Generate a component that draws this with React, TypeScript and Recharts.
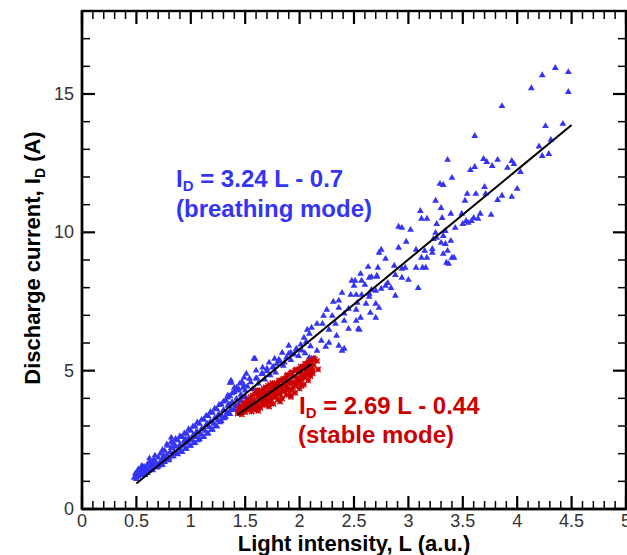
import React from 'react';
import { ScatterChart, Scatter, XAxis, YAxis } from 'recharts';

// ---------- data ----------
const X_MAJOR_LABELS = ['0', '0.5', '1', '1.5', '2', '2.5', '3', '3.5', '4', '4.5', '5'];
const Y_MAJOR_LABELS = ['0', '5', '10', '15'];
const X_TICKS = Array.from({ length: 51 }, (_, i) => i / 10);
const Y_TICKS = Array.from({ length: 19 }, (_, i) => i);

// breathing mode (blue triangles): [L, I_D]
const breathingLow: [number, number][] = [
  [0.48, 1.15], [0.49, 1.3], [0.5, 1.22], [0.51, 1.4], [0.52, 1.18], [0.53, 1.33], [0.54, 1.48], [0.55, 1.25],
  [0.56, 1.42], [0.57, 1.55], [0.58, 1.35], [0.59, 1.5], [0.6, 1.62], [0.61, 1.4], [0.62, 1.72], [0.63, 1.55],
  [0.64, 1.45], [0.65, 1.68], [0.66, 1.8], [0.67, 1.58], [0.68, 1.7], [0.69, 1.52], [0.7, 1.88], [0.71, 1.66],
  [0.72, 2.02], [0.73, 1.78], [0.74, 1.62], [0.75, 1.95], [0.76, 2.12], [0.77, 1.8], [0.78, 1.98], [0.79, 2.3],
  [0.8, 1.85], [0.81, 2.08], [0.82, 2.22], [0.83, 1.95], [0.84, 2.4], [0.85, 2.1], [0.86, 2.28], [0.87, 2.02],
  [0.88, 2.5], [0.89, 2.2], [0.9, 2.35], [0.91, 2.12], [0.92, 2.62], [0.93, 2.3], [0.94, 2.48], [0.95, 2.2],
  [0.96, 2.75], [0.97, 2.4], [0.98, 2.58], [0.99, 2.3], [1.0, 2.85], [1.01, 2.5], [1.02, 2.68], [1.03, 2.42],
  [1.04, 3.0], [1.05, 2.62], [1.06, 2.8], [1.07, 2.5], [1.08, 3.1], [1.09, 2.72], [1.1, 2.92], [1.11, 2.62],
  [1.12, 3.25], [1.13, 2.85], [1.14, 3.05], [1.15, 2.75], [1.16, 3.38], [1.17, 2.98], [1.18, 3.18], [1.19, 2.88],
  [1.2, 3.5], [1.21, 3.1], [1.22, 3.3], [1.23, 3.02], [1.24, 3.62], [1.25, 3.22], [1.26, 3.45], [1.27, 3.15],
  [1.28, 3.8], [1.29, 3.35], [1.3, 3.6], [1.31, 3.3], [1.32, 3.95], [1.33, 3.5], [1.34, 3.75], [1.35, 3.48],
  [1.36, 4.1], [1.37, 3.62], [1.38, 3.88], [1.39, 3.6], [1.4, 4.25], [1.41, 3.78], [1.42, 4.0], [1.43, 3.72],
  [1.44, 4.35], [1.45, 3.9], [1.46, 4.15], [1.47, 4.62], [1.48, 4.05], [1.5, 4.3], [1.36, 4.58], [0.82, 2.6],
];

const breathingLowEdge: [number, number][] = [
  [0.5, 1.1], [0.52, 1.45], [0.55, 1.58], [0.58, 1.25], [0.6, 1.32], [0.62, 1.85], [0.65, 1.42], [0.67, 1.95],
  [0.7, 1.55], [0.72, 1.6], [0.74, 2.15], [0.76, 1.72], [0.78, 2.35], [0.8, 1.78], [0.82, 2.45], [0.84, 1.92],
  [0.86, 2.55], [0.88, 2.0], [0.9, 2.65], [0.92, 2.08], [0.94, 2.75], [0.96, 2.2], [0.98, 2.9], [1.0, 2.3],
  [1.02, 3.0], [1.04, 2.4], [1.06, 3.15], [1.08, 2.55], [1.1, 3.25], [1.12, 2.62], [1.14, 3.38], [1.16, 2.75],
  [1.18, 3.52], [1.2, 2.88], [1.22, 3.65], [1.24, 3.0], [1.26, 3.78], [1.28, 3.2], [1.3, 3.9], [1.32, 3.35],
  [1.34, 4.05], [1.36, 3.45], [1.38, 4.2], [1.4, 3.6], [1.42, 4.4], [1.44, 3.75], [0.95, 2.55], [1.05, 2.8],
  [1.15, 3.1], [1.25, 3.4], [1.35, 3.8], [0.75, 1.85], [0.85, 2.3], [0.65, 1.55], [0.55, 1.35], [1.46, 3.95],
  [1.48, 4.4], [1.5, 4.1],
];

const breathingMid: [number, number][] = [
  [1.52, 4.45], [1.55, 4.6], [1.57, 4.35], [1.6, 4.75], [1.62, 4.55], [1.65, 4.9], [1.68, 4.7], [1.7, 5.0],
  [1.73, 4.85], [1.76, 5.15], [1.78, 4.95], [1.82, 5.35], [1.85, 5.2], [1.88, 5.5], [1.92, 5.4], [1.95, 5.6],
  [1.99, 5.55], [2.02, 5.75], [2.05, 5.65], [2.1, 5.9],
  [1.58, 5.45], [1.77, 5.45], [1.7, 5.09], [1.86, 5.31], [1.49, 4.77], [1.61, 4.73], [1.37, 4.59], [1.43, 4.3],
  [1.34, 4.12], [1.92, 5.67], [1.97, 5.81],
  [2.51, 8.27], [2.5, 8.09], [2.66, 8.41], [2.71, 8.45], [2.6, 8.12], [2.57, 7.76], [2.64, 7.69], [2.31, 7.51],
  [2.36, 7.55], [2.53, 7.47], [2.61, 7.44], [2.7, 7.44], [2.25, 7.22], [2.36, 7.29], [2.45, 7.26], [2.52, 7.22],
  [2.65, 7.11], [2.22, 7.0], [2.3, 7.0], [2.41, 7.08], [2.56, 6.93], [2.7, 6.93], [2.16, 6.71], [2.21, 6.71],
  [2.33, 6.71], [2.41, 6.82], [2.52, 6.82], [2.45, 6.53], [2.55, 6.5], [2.07, 6.5], [2.11, 6.57], [2.09, 6.35],
  [2.27, 6.5], [2.34, 6.28], [2.2, 6.1], [2.27, 6.03], [2.04, 6.21], [2.01, 5.96], [2.24, 5.88], [2.41, 5.81],
  [2.06, 6.06], [1.9, 5.92], [1.97, 5.78], [2.16, 5.74], [1.84, 5.67], [1.9, 5.63], [1.81, 5.42], [2.09, 5.49],
  [2.13, 5.45], [1.59, 5.45], [1.72, 5.31], [1.79, 5.27], [1.66, 5.13], [1.75, 5.13], [1.6, 5.02], [1.51, 4.91],
  [1.66, 4.91], [1.54, 4.73], [1.45, 4.55], [1.49, 4.48], [1.4, 4.4], [1.37, 4.66],
  [2.39, 5.74], [2.36, 5.92], [2.54, 6.53], [2.73, 7.29],
];

const breathingHigh: [number, number][] = [
  [3.11, 10.79], [3.12, 10.51], [3.17, 10.51], [3.3, 10.9], [3.31, 10.54], [3.26, 10.32], [3.39, 10.69],
  [3.49, 10.69], [3.53, 10.43], [3.58, 10.43], [3.64, 10.51], [3.66, 10.69], [3.76, 10.65], [3.5, 10.32],
  [3.43, 10.18], [3.34, 10.07], [3.25, 10.0], [2.91, 10.22], [2.94, 10.18], [3.02, 10.11], [2.98, 9.68],
  [3.07, 9.39], [2.91, 9.46], [2.75, 9.39], [2.73, 9.28], [2.79, 9.06], [3.26, 9.82], [3.3, 9.64], [3.39, 9.71],
  [3.4, 9.1], [3.35, 8.92], [3.22, 9.42], [3.22, 9.28], [3.17, 9.1], [3.12, 9.1], [3.07, 8.74], [3.16, 8.74],
  [2.97, 8.74], [2.94, 8.7], [2.87, 8.81], [2.72, 8.74], [2.63, 8.77], [2.56, 8.52], [2.64, 8.38], [2.71, 8.41],
  [2.88, 8.48], [2.94, 8.38], [3.0, 8.3], [3.23, 9.78], [3.32, 9.89], [3.34, 9.6], [3.36, 9.35], [3.32, 9.24],
  [3.42, 9.1], [3.37, 8.88], [3.15, 9.35], [3.13, 8.74], [2.48, 8.27], [2.57, 8.27], [2.81, 8.19], [2.79, 8.09],
  [2.84, 8.01], [2.75, 7.98], [2.7, 7.91], [2.66, 7.94], [3.09, 8.01], [2.88, 7.73], [2.39, 7.83], [2.47, 7.76],
  [2.52, 7.76], [2.64, 7.8], [3.52, 11.16], [3.55, 10.36], [3.6, 10.54], [3.71, 11.41],
  [4.35, 15.96], [4.47, 15.81], [4.23, 15.7], [4.13, 15.23], [4.47, 15.09], [3.86, 14.58], [4.42, 13.94],
  [4.26, 13.86], [3.61, 13.5], [4.31, 13.36], [4.2, 13.12], [4.23, 12.78], [4.29, 12.85], [3.36, 12.64],
  [3.69, 12.67], [3.72, 12.56], [3.82, 12.64], [3.77, 12.42], [3.95, 12.6], [3.97, 12.49], [3.91, 12.35],
  [3.61, 12.38], [3.57, 12.27], [4.03, 12.2], [3.4, 11.99], [3.29, 11.77], [3.32, 11.73], [3.7, 11.66],
  [4.0, 11.59], [3.54, 11.41], [3.62, 11.41], [3.82, 11.19], [3.86, 11.34], [3.95, 11.3], [3.25, 11.16],
];

// stable mode (red stars): [L, I_D]
const stablePoints: [number, number][] = [
  [1.43, 3.45], [1.44, 3.6], [1.45, 3.5], [1.46, 3.72], [1.47, 3.42], [1.48, 3.62], [1.49, 3.85], [1.5, 3.5],
  [1.51, 3.7], [1.52, 3.95], [1.53, 3.58], [1.54, 3.8], [1.55, 4.05], [1.56, 3.52], [1.57, 3.72], [1.58, 3.92],
  [1.59, 4.15], [1.6, 3.6], [1.61, 3.82], [1.62, 4.05], [1.63, 4.28], [1.64, 3.65], [1.65, 3.9], [1.66, 4.15],
  [1.67, 4.35], [1.68, 3.75], [1.69, 4.0], [1.7, 4.22], [1.71, 4.45], [1.72, 3.85], [1.73, 4.1], [1.74, 4.32],
  [1.75, 4.55], [1.76, 3.8], [1.77, 4.05], [1.78, 4.25], [1.79, 4.48], [1.8, 3.95], [1.81, 4.18], [1.82, 4.4],
  [1.83, 4.62], [1.84, 4.0], [1.85, 4.28], [1.86, 4.5], [1.87, 4.72], [1.88, 4.12], [1.89, 4.38], [1.9, 4.6],
  [1.91, 4.85], [1.92, 4.05], [1.93, 4.3], [1.94, 4.55], [1.95, 4.78], [1.96, 4.2], [1.97, 4.45], [1.98, 4.7],
  [1.99, 4.95], [2.0, 4.35], [2.01, 4.6], [2.02, 4.85], [2.03, 5.1], [2.04, 4.5], [2.05, 4.75], [2.06, 5.0],
  [2.07, 5.25], [2.08, 4.65], [2.09, 4.9], [2.1, 5.15], [2.11, 5.35], [2.12, 5.0], [2.13, 5.2], [2.14, 5.4],
  [1.46, 3.55], [1.5, 3.78], [1.55, 3.65], [1.58, 3.6], [1.62, 3.7], [1.66, 3.8], [1.7, 3.9], [1.74, 3.95],
  [1.78, 4.1], [1.82, 4.15], [1.86, 4.25], [1.9, 4.3], [1.94, 4.4], [1.98, 4.55], [2.02, 4.7], [2.06, 4.85],
  [1.6, 4.2], [1.64, 4.1], [1.68, 4.2], [1.72, 4.3], [1.76, 4.4], [1.8, 4.5], [1.84, 4.65], [1.88, 4.8],
  [1.92, 4.9], [1.96, 5.0], [2.0, 5.05], [2.04, 5.15], [2.08, 5.3], [2.1, 4.8], [2.16, 5.35], [2.17, 5.05],
  [1.44, 3.52], [1.47, 3.65], [1.49, 3.58], [1.52, 3.75], [1.53, 3.88], [1.56, 3.9], [1.57, 4.1], [1.59, 3.75],
  [1.61, 4.3], [1.63, 3.95], [1.65, 4.25], [1.67, 3.98], [1.69, 4.4], [1.71, 4.1], [1.73, 4.5], [1.75, 4.2],
  [1.77, 4.55], [1.79, 4.3], [1.81, 4.65], [1.83, 4.35], [1.85, 4.7], [1.87, 4.45], [1.89, 4.85], [1.91, 4.55],
  [1.93, 4.95], [1.95, 4.6], [1.97, 5.05], [1.99, 4.75], [2.01, 5.15], [2.03, 4.9], [2.05, 5.25], [2.07, 5.05],
  [2.09, 5.38], [2.11, 5.1], [2.13, 5.45], [1.62, 3.55], [1.72, 3.7], [1.82, 3.88], [1.92, 4.12], [2.02, 4.45],
  [2.12, 4.9],
];

// fit lines: endpoints [L, I_D]
const fitBreathing: [number, number][] = [[0.5, 0.92], [4.5, 13.88]];
const fitStable: [number, number][] = [[1.43, 3.41], [2.11, 5.24]];

// ---------- layout / styling ----------
const PLOT_LEFT = 82;
const PLOT_RIGHT = 626;
const PLOT_TOP = 11;
const PLOT_BOTTOM = 509;

const BLUE = '#3434f4';
const RED = '#cc0000';
const FONT = "Arial, 'Liberation Sans', Helvetica, sans-serif";

const toXY = (arr: [number, number][]) => arr.map(([x, y]) => ({ x, y }));
const blueData = toXY([...breathingLow, ...breathingLowEdge, ...breathingMid, ...breathingHigh]);
const redData = toXY(stablePoints);

const isMajorX = (v: number) => Math.abs(v * 2 - Math.round(v * 2)) < 1e-6;
const isMajorY = (v: number) => Math.abs(v / 5 - Math.round(v / 5)) < 1e-6;

const Tri = (p: any) => {
  const { cx, cy } = p;
  if (cx == null || cy == null) return <g />;
  return <polygon points={`${cx},${cy - 3.4} ${cx - 3.4},${cy + 2.5} ${cx + 3.4},${cy + 2.5}`} fill={BLUE} />;
};

const Star = (p: any) => {
  const { cx, cy } = p;
  if (cx == null || cy == null) return <g />;
  const r = 2.6;
  return (
    <g stroke={RED} strokeWidth={1.4}>
      <line x1={cx - r} y1={cy - r} x2={cx + r} y2={cy + r} />
      <line x1={cx - r} y1={cy + r} x2={cx + r} y2={cy - r} />
      <line x1={cx - r} y1={cy} x2={cx + r} y2={cy} />
      <line x1={cx} y1={cy - r} x2={cx} y2={cy + r} />
    </g>
  );
};

const NoDot = () => <g />;

const MAJ = 13;
const MIN = 8;

// bottom axis tick: inward tick at bottom, mirrored tick at top frame
const XTick = (p: any) => {
  const { x, payload } = p;
  const v = payload.value;
  const major = isMajorX(v);
  const len = major ? MAJ : MIN;
  const sw = major ? 2.2 : 1.5;
  return (
    <g>
      <line x1={x} x2={x} y1={PLOT_BOTTOM} y2={PLOT_BOTTOM - len} stroke="#000" strokeWidth={sw} />
      <line x1={x} x2={x} y1={PLOT_TOP} y2={PLOT_TOP + len} stroke="#000" strokeWidth={sw} />
      {major && (
        <text x={x} y={PLOT_BOTTOM + 18} textAnchor="middle" fontSize={18} fontFamily={FONT} fill="#333">
          {X_MAJOR_LABELS[Math.round(v * 2)]}
        </text>
      )}
    </g>
  );
};

// left axis tick: inward tick at left, mirrored tick at right frame
const YTick = (p: any) => {
  const { y, payload } = p;
  const v = payload.value;
  const major = isMajorY(v);
  const len = major ? MAJ : MIN;
  const sw = major ? 2.2 : 1.5;
  return (
    <g>
      <line x1={PLOT_LEFT} x2={PLOT_LEFT + len} y1={y} y2={y} stroke="#000" strokeWidth={sw} />
      <line x1={PLOT_RIGHT} x2={PLOT_RIGHT - len} y1={y} y2={y} stroke="#000" strokeWidth={sw} />
      {major && (
        <text x={PLOT_LEFT - 8} y={y + 6} textAnchor="end" fontSize={18} fontFamily={FONT} fill="#333">
          {Y_MAJOR_LABELS[Math.round(v / 5)]}
        </text>
      )}
    </g>
  );
};

const axisLine = { stroke: '#000', strokeWidth: 2.4 };

export default function App() {
  return (
    <div style={{ position: 'absolute', left: 0, top: 0, width: 627, height: 555, background: '#fff' }}>
      <ScatterChart
        width={627}
        height={555}
        margin={{ top: PLOT_TOP, right: 627 - PLOT_RIGHT, bottom: 0, left: 0 }}
      >
        <XAxis
          xAxisId="b"
          type="number"
          dataKey="x"
          domain={[0, 5]}
          ticks={X_TICKS}
          interval={0}
          height={555 - PLOT_BOTTOM}
          axisLine={axisLine}
          tickLine={false}
          tick={(p: any) => <XTick {...p} />}
          allowDataOverflow
        />
        <YAxis
          yAxisId="l"
          type="number"
          dataKey="y"
          domain={[0, 18]}
          ticks={Y_TICKS}
          interval={0}
          width={PLOT_LEFT}
          axisLine={axisLine}
          tickLine={false}
          tick={(p: any) => <YTick {...p} />}
          allowDataOverflow
        />
        <Scatter xAxisId="b" yAxisId="l" data={blueData} shape={Tri} isAnimationActive={false} />
        <Scatter xAxisId="b" yAxisId="l" data={redData} shape={Star} isAnimationActive={false} />
        <Scatter
          xAxisId="b"
          yAxisId="l"
          data={toXY(fitBreathing)}
          shape={NoDot}
          line={{ stroke: '#000', strokeWidth: 2 }}
          isAnimationActive={false}
        />
        <Scatter
          xAxisId="b"
          yAxisId="l"
          data={toXY(fitStable)}
          shape={NoDot}
          line={{ stroke: '#000', strokeWidth: 2 }}
          isAnimationActive={false}
        />
      </ScatterChart>
      <svg
        width={627}
        height={555}
        style={{ position: 'absolute', left: 0, top: 0, pointerEvents: 'none' }}
        fontFamily={FONT}
        fontWeight="bold"
      >
        <rect
          x={PLOT_LEFT}
          y={PLOT_TOP}
          width={PLOT_RIGHT - PLOT_LEFT}
          height={PLOT_BOTTOM - PLOT_TOP}
          fill="none"
          stroke="#000"
          strokeWidth={2.4}
        />
        <text x={354} y={551} textAnchor="middle" fontSize={22} fill="#000">
          Light intensity, L (a.u.)
        </text>
        <text transform="translate(40,258) rotate(-90)" textAnchor="middle" fontSize={22} fill="#000">
          Discharge current, I
          <tspan fontSize={14} dy={5}>D</tspan>
          <tspan dy={-5}> (A)</tspan>
        </text>
        <text x={176} y={187} fontSize={24} fill={BLUE}>
          I<tspan fontSize={15} dy={4}>D</tspan>
          <tspan dy={-4}> = 3.24 L - 0.7</tspan>
        </text>
        <text x={176} y={217} fontSize={24} fill={BLUE}>
          (breathing mode)
        </text>
        <text x={299} y={414} fontSize={24} fill={RED}>
          I<tspan fontSize={15} dy={4}>D</tspan>
          <tspan dy={-4}> = 2.69 L - 0.44</tspan>
        </text>
        <text x={298} y={443} fontSize={24} fill={RED}>
          (stable mode)
        </text>
      </svg>
    </div>
  );
}
